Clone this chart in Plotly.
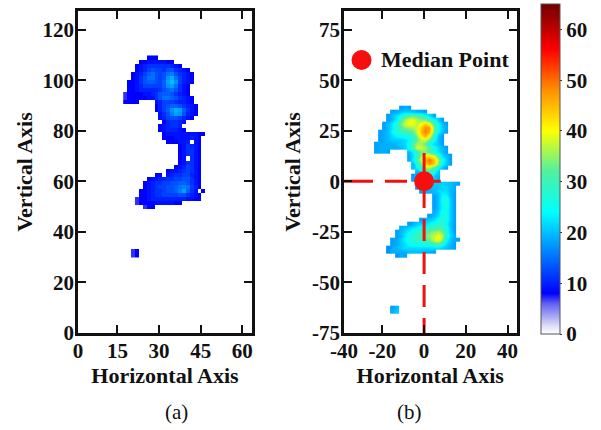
import numpy as np
import plotly.graph_objects as go

row_start = [6,4,3,3,2,2,1,1,1,0,0,0,8,8,9,9,10,9,9,10,10,11,14,14,14,14,14,13,11,8,6,5,5,4,4,3,3,5,
             0,0,0,0,0,0,0,0,0,0,2,2]
row_start_b = row_start[:48] + [0, 0, 4, 4]

density_a = [
 [8,8,8],
 [8,8,9,9,9,9,9,8,8],
 [8,9,10,11,11,11,11,11,11,10,9,8],
 [8,9,10,12,13,12,12,11,13,13,11,10,9,8],
 [8,9,10,12,14,15,13,12,13,15,16,13,11,10,9,8],
 [8,9,11,13,15,15,13,12,13,17,19,15,12,10,9,8],
 [8,8,9,11,13,14,14,13,12,14,18,20,17,12,10,9,8],
 [8,8,9,10,12,12,12,12,12,14,17,18,15,11,9,8],
 [8,8,9,10,10,10,10,10,11,13,14,15,13,11,9,8],
 [7,8,8,8,8,9,9,10,11,13,14,14,13,11,10,9,8],
 [7,8,8,8,8,8,9,9,11,13,15,15,14,13,11,10,9,8],
 [8,8,8,8,0,0,0,0,9,10,12,12,12,11,10,10,9,8],
 [8,10,12,13,14,14,13,11,10,9,8],
 [8,10,12,14,17,19,18,14,11,9,8],
 [9,11,13,16,18,17,13,10,9,8],
 [9,10,12,13,13,12,10,9,8],
 [8,10,11,11,10,9],
 [8,9,10,11,11,10,0],
 [8,9,10,10,10,9,8],
 [8,9,9,9,9,9,9,9,9,8,8],
 [8,8,8,9,9,9,9,10,9,8],
 [8,8,8,9,9,10,0,9,8],
 [8,9,11,10,9,8],
 [8,9,11,11,9,8],
 [8,9,11,11,9,8],
 [8,9,0,11,9,8],
 [8,9,11,11,9,8],
 [8,9,10,12,11,9,8],
 [8,9,9,10,11,12,11,9,8],
 [8,8,0,9,10,11,11,12,12,10,9,8],
 [8,9,9,10,10,11,11,12,12,13,13,11,9,8],
 [8,9,10,11,11,12,12,13,13,14,14,13,11,9,8],
 [8,9,10,11,12,12,13,13,14,15,16,15,12,10,8],
 [8,8,9,10,11,11,12,13,13,14,16,18,14,11,9,0,8],
 [8,8,9,10,11,11,12,12,12,12,13,13,11,10,9,8],
 [7,8,8,9,10,10,10,10,10,10,10,10,10,9,9,8,8],
 [7,8,8,8,8,9,9,9,9,9,8,8],
 [7,8,8],
 [],[],[],[],[],[],[],[],[],[],
 [7,8],
 [7,8],
]

density_b = [
 [18,19,18],
 [18,19,20,21,21,20,19,19,18],
 [18,20,23,26,30,32,33,32,30,26,22,18],
 [18,20,24,30,36,39,39,36,34,34,30,25,21,18],
 [18,20,23,28,34,38,40,39,37,40,44,40,30,24,20,18],
 [18,20,23,28,32,34,35,36,38,44,48,47,33,25,21,19],
 [18,19,20,24,27,29,30,31,33,38,45,49,46,32,24,20,18],
 [18,19,20,22,24,25,26,27,30,35,42,46,40,27,20,18],
 [18,19,20,21,21,21,22,24,27,33,37,38,33,25,20,18],
 [18,19,19,19,19,20,21,22,26,32,36,36,32,26,21,20,18],
 [18,19,19,19,19,19,20,21,26,32,38,38,36,32,26,22,20,18],
 [18,19,19,18,0,0,0,0,20,24,30,33,34,30,25,22,20,18],
 [19,22,28,36,40,42,38,30,22,20,18],
 [19,24,32,38,45,50,44,36,26,21,18],
 [20,26,34,42,47,44,34,24,21,18],
 [20,24,30,36,36,30,24,20,18],
 [19,22,28,30,26,20],
 [18,20,22,28,26,21,19],
 [18,20,21,24,24,21,19],
 [18,19,20,20,21,21,21,21,20,19,18],
 [18,19,19,20,20,21,21,22,20,19],
 [18,19,19,20,21,23,22,20,18],
 [18,20,24,24,20,18],
 [18,20,25,27,21,18],
 [18,20,25,27,21,18],
 [18,20,24,26,21,18],
 [19,21,26,26,21,18],
 [18,20,22,27,26,21,18],
 [18,20,21,22,25,28,26,21,18],
 [18,19,21,21,22,24,26,28,28,24,20,18],
 [19,20,21,23,24,26,27,29,30,31,31,26,21,18],
 [18,20,22,24,26,28,30,31,33,35,36,33,26,21,18],
 [18,20,23,26,28,30,32,33,35,37,40,37,28,22,19],
 [18,19,21,24,26,27,28,30,31,33,38,42,34,25,20,19,18],
 [18,19,21,22,25,26,26,26,26,27,30,31,26,22,20,18],
 [17,19,20,21,22,22,22,22,22,22,22,22,22,21,20,19,18],
 [17,19,19,19,19,20,20,20,20,19,19,18],
 [17,19,18],
 [],[],[],[],[],[],[],[],[],[],[],[],
 [18,20],
 [19,21],
]

median_x = [0]
median_y = [0]
x_ticks_a = [0.8, 15, 30, 45, 60]
x_labels_a = ["0", "15", "30", "45", "60"]
y_ticks_a = [0, 20, 40, 60, 80, 100, 120]
y_labels_a = ["0", "20", "40", "60", "80", "100", "120"]
x_ticks_b = [-38.4, -20, 0, 20, 40]
x_labels_b = ["-40", "-20", "0", "20", "40"]
y_ticks_b = [-75, -50, -25, 0, 25, 50, 75]
y_labels_b = ["-75", "-50", "-25", "0", "25", "50", "75"]
cbar_ticks = [0, 10, 20, 30, 40, 50, 60]

W, H = 601, 430
NCOL = 23

def grid(rows, starts):
    out = np.full((len(rows), NCOL), np.nan, dtype=float)
    for j, (s, r) in enumerate(zip(starts, rows)):
        for i, v in enumerate(r):
            if v:
                out[j, s + i] = v
    return out

colorscale = [
    [0, "#ffffff"], [1.5/65, "#e0e0f8"], [6/65, "#6060f0"], [8/65, "#0000ff"], [16/65, "#0080ff"], [24/65, "#00ffff"],
    [32/65, "#50f0a0"], [40/65, "#ffff00"], [48/65, "#ff9000"], [56/65, "#ff0000"], [65/65, "#700000"],
]
SERIF = "Liberation Serif"
INK = "#111111"

fig = go.Figure()
fig.add_trace(go.Heatmap(
    z=grid(density_a, row_start),
    x=17.8 + 1.41 * np.arange(NCOL), y=109 - 1.6 * np.arange(len(density_a)),
    zmin=0, zmax=65, colorscale=colorscale, showscale=False, xaxis="x", yaxis="y", hoverongaps=False,
))
fig.add_trace(go.Heatmap(
    z=grid(density_b, row_start_b),
    x=-23 + 1.97 * np.arange(NCOL), y=36.4 - 1.98 * np.arange(len(density_b)),
    zmin=0, zmax=65, colorscale=colorscale, zsmooth="best", xaxis="x2", yaxis="y2",
    colorbar=dict(
        x=541 / W, xanchor="left", y=1 - 334 / H, yanchor="bottom", len=330 / H, lenmode="fraction",
        thickness=19, thicknessmode="pixels", xpad=0, ypad=0,
        outlinewidth=1, outlinecolor="#555555",
        tickmode="array", tickvals=cbar_ticks, ticks="outside", ticklen=2, tickcolor="#333333",
        tickfont=dict(family=SERIF, size=21, color=INK, weight="bold"),
    ),
))
fig.add_trace(go.Scatter(x=[-38.4, 8], y=[0, 0], mode="lines",
                         line=dict(color="#f01010", width=3, dash="29px,12px,22px,12px,22px,12px"),
                         xaxis="x2", yaxis="y2", showlegend=False))
fig.add_trace(go.Scatter(x=[0, 0], y=[14, -75], mode="lines", line=dict(color="#f01010", width=3, dash="22px,11px"),
                         xaxis="x2", yaxis="y2", showlegend=False))
fig.add_trace(go.Scatter(x=median_x, y=median_y, mode="markers", marker=dict(color="#f70f0f", size=20),
                         xaxis="x2", yaxis="y2", showlegend=False))
fig.add_trace(go.Scatter(x=[-30], y=[60], mode="markers", marker=dict(color="#f70f0f", size=20),
                         xaxis="x2", yaxis="y2", showlegend=False))

def axis(lo, hi, rng, ticks, labels, title, standoff, **kw):
    return dict(
        domain=[lo, hi], range=rng, tickmode="array", tickvals=ticks, ticktext=labels,
        ticks="inside", ticklen=8, tickwidth=2, tickcolor=INK, showline=True, linewidth=2.5,
        linecolor=INK, mirror="ticks", showgrid=False, zeroline=False, automargin=False,
        ticklabelstandoff=-3,
        tickfont=dict(family=SERIF, size=21, color=INK, weight="bold"),
        title=dict(text=title, font=dict(family=SERIF, size=22, color=INK, weight="bold"), standoff=standoff),
        **kw,
    )

top, bot = 1 - 333 / H, 1 - 11 / H
xaxis = axis(78 / W, 252 / W, [0.8, 63.5], x_ticks_a, x_labels_a, "Horizontal Axis", 6, anchor="y")
yaxis = axis(top, bot, [0, 127.4], y_ticks_a, y_labels_a, "Vertical Axis", 4, anchor="x")
xaxis2 = axis(344 / W, 516.5 / W, [-38.4, 44.3], x_ticks_b, x_labels_b, "Horizontal Axis", 6, anchor="y2")
yaxis2 = axis(top, bot, [-75, 84.2], y_ticks_b, y_labels_b, "Vertical Axis", 6, anchor="x2")

fig.update_layout(
    template="none",
    width=W, height=H, margin=dict(l=0, r=0, t=0, b=0), paper_bgcolor="white", plot_bgcolor="white",
    xaxis=xaxis, yaxis=yaxis, xaxis2=xaxis2, yaxis2=yaxis2, showlegend=False,
    annotations=[
        dict(text="(a)", x=163 / W, y=1 - 412 / H, xref="paper", yref="paper", showarrow=False, yanchor="middle",
             font=dict(family=SERIF, size=21, color=INK)),
        dict(text="(b)", x=424 / W, y=1 - 412 / H, xref="paper", yref="paper", showarrow=False, yanchor="middle",
             font=dict(family=SERIF, size=21, color=INK)),
        dict(text="Median Point", x=378.5 / W, y=1 - 59.5 / H, xref="paper", yref="paper", showarrow=False,
             xanchor="left", yanchor="middle", font=dict(family=SERIF, size=22, color=INK, weight="bold")),
    ],
)
fig.write_html("out.html", config={"displayModeBar": False}, post_script="document.body.style.margin='0';")
